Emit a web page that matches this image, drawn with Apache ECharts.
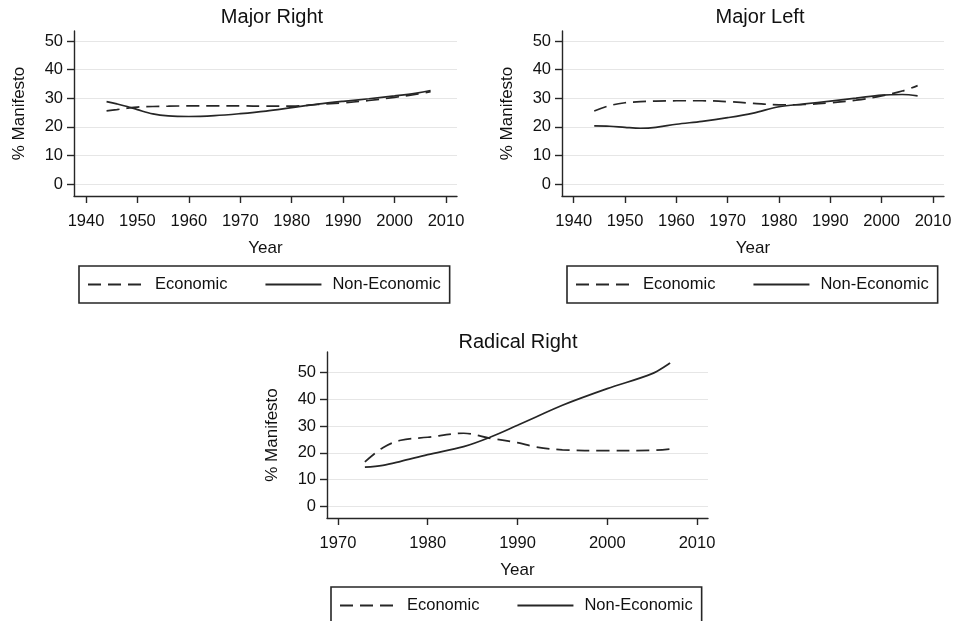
<!DOCTYPE html>
<html>
<head>
<meta charset="utf-8">
<script src="https://cdn.jsdelivr.net/npm/echarts@6/dist/echarts.min.js"></script>
<style>
html,body{margin:0;padding:0;background:#fff;}
#chart{width:958px;height:621px;}
</style>
</head>
<body>
<div id="chart"></div>
<script>
// ---- Data ----
const panelTitles = ['Major Right', 'Major Left', 'Radical Right'];
const seriesNames = ['Economic', 'Non-Economic'];

const majorRightYears   = [1944,1946,1948,1950,1953,1956,1960,1965,1970,1975,1980,1985,1990,1995,2000,2004,2007];
const majorRightEcon    = [25.6,26.0,26.5,26.9,27.1,27.2,27.3,27.3,27.3,27.2,27.2,27.8,28.4,29.2,30.3,31.3,32.3];
const majorRightNonEcon = [28.8,28.0,27.1,26.0,24.5,23.8,23.6,23.9,24.6,25.5,26.7,27.9,28.9,29.8,30.8,31.7,32.7];

const majorLeftYears    = [1944,1947,1950,1953,1956,1960,1965,1970,1975,1980,1985,1990,1995,2000,2004,2007];
const majorLeftEcon     = [25.5,27.4,28.4,28.8,29.0,29.1,29.1,28.8,28.2,27.7,27.8,28.4,29.3,30.8,32.5,34.4];
const majorLeftNonEcon  = [20.3,20.2,19.8,19.5,19.8,20.9,21.9,23.2,24.8,27.0,28.0,29.0,30.0,31.1,31.3,30.8];

const radicalRightYears    = [1973,1975,1977,1980,1984,1987,1990,1992,1995,2000,2005,2007];
const radicalRightEcon     = [16.6,21.9,24.7,25.8,27.3,25.4,23.8,22.2,21.1,20.8,20.9,21.4];
const radicalRightNonEcon  = [14.6,15.3,16.8,19.3,22.3,25.9,30.3,33.3,37.8,44.0,49.6,53.6];

const yTickValues      = [0,10,20,30,40,50];
const xTickValuesMajor = [1940,1950,1960,1970,1980,1990,2000,2010];
const xTickValuesRad   = [1970,1980,1990,2000,2010];

// ---- Styling / layout ----
const INK = '#111111';
const LINE = '#262626';
const FONT = '"Liberation Sans", Arial, Helvetica, sans-serif';

const panels = [
  {title: panelTitles[0], years: majorRightYears, econ: majorRightEcon, non: majorRightNonEcon,
   grid: {left: 74, top: 31, width: 383, height: 165}, xMin: 1937.67, xMax: 2012.14, yMin: -4.2, yMax: 53.5,
   xTicks: xTickValuesMajor, titleX: 267, titleY: 2, legend: {left: 79, top: 266}},
  {title: panelTitles[1], years: majorLeftYears, econ: majorLeftEcon, non: majorLeftNonEcon,
   grid: {left: 562, top: 31, width: 382, height: 165}, xMin: 1937.72, xMax: 2012.14, yMin: -4.2, yMax: 53.5,
   xTicks: xTickValuesMajor, titleX: 755, titleY: 2, legend: {left: 567, top: 266}},
  {title: panelTitles[2], years: radicalRightYears, econ: radicalRightEcon, non: radicalRightNonEcon,
   grid: {left: 327, top: 352, width: 381, height: 166}, xMin: 1968.78, xMax: 2011.22, yMin: -4.4, yMax: 57.7,
   xTicks: xTickValuesRad, titleX: 513, titleY: 327, legend: {left: 331, top: 587}}
];

function pairs(xs, ys) { return xs.map((x, i) => [x, ys[i]]); }
const plain = v => String(Math.round(v));

const option = {
  animation: false,
  backgroundColor: '#ffffff',
  textStyle: {fontFamily: FONT},
  title: [], grid: [], xAxis: [], yAxis: [], series: [], legend: []
};

panels.forEach((p, i) => {
  option.title.push({
    text: p.title, left: p.titleX, top: p.titleY, textAlign: 'center',
    textStyle: {fontFamily: FONT, fontSize: 20, fontWeight: 'normal', color: INK}
  });
  option.grid.push(Object.assign({containLabel: false}, p.grid));
  option.xAxis.push({
    type: 'value', gridIndex: i, min: p.xMin, max: p.xMax,
    name: 'Year', nameLocation: 'middle', nameGap: 44,
    nameTextStyle: {fontFamily: FONT, fontSize: 17, color: INK},
    axisLine: {show: true, onZero: false, lineStyle: {color: LINE, width: 1.4}},
    axisTick: {show: true, length: 7, customValues: p.xTicks, lineStyle: {color: LINE, width: 1.4}},
    axisLabel: {customValues: p.xTicks, formatter: plain, margin: 17, fontFamily: FONT, fontSize: 16.5, color: INK},
    splitLine: {show: false}
  });
  option.yAxis.push({
    type: 'value', gridIndex: i, min: p.yMin, max: p.yMax,
    name: '% Manifesto', nameLocation: 'middle', nameGap: 46,
    nameTextStyle: {fontFamily: FONT, fontSize: 17, color: INK},
    axisLine: {show: true, onZero: false, lineStyle: {color: LINE, width: 1.4}},
    axisTick: {show: true, length: 7, customValues: yTickValues, lineStyle: {color: LINE, width: 1.4}},
    axisLabel: {customValues: yTickValues, formatter: plain, margin: 11, fontFamily: FONT, fontSize: 16.5, color: INK},
    splitLine: {show: true, lineStyle: {color: '#e6e6e6', width: 1}}
  });
  option.series.push({
    name: seriesNames[0], type: 'line', xAxisIndex: i, yAxisIndex: i,
    data: pairs(p.years, p.econ), smooth: 0.35, symbol: 'none', showSymbol: false,
    lineStyle: {color: LINE, width: 1.7, type: [13, 7]}, itemStyle: {color: LINE}
  });
  option.series.push({
    name: seriesNames[1], type: 'line', xAxisIndex: i, yAxisIndex: i,
    data: pairs(p.years, p.non), smooth: 0.35, symbol: 'none', showSymbol: false,
    lineStyle: {color: LINE, width: 1.7, type: 'solid'}, itemStyle: {color: LINE}
  });
  option.legend.push({
    data: seriesNames.slice(), left: p.legend.left, top: p.legend.top,
    orient: 'horizontal', itemWidth: 56, itemHeight: 14, itemGap: 37,
    padding: [10, 9, 10, 8], borderColor: LINE, borderWidth: 1.6, borderRadius: 0,
    selectedMode: false,
    itemStyle: {opacity: 0},
    textStyle: {fontFamily: FONT, fontSize: 16.5, color: INK, padding: [0, 0, 0, 6]}
  });
});

const chart = echarts.init(document.getElementById('chart'), null, {renderer: 'canvas'});
chart.setOption(option);
</script>
</body>
</html>
